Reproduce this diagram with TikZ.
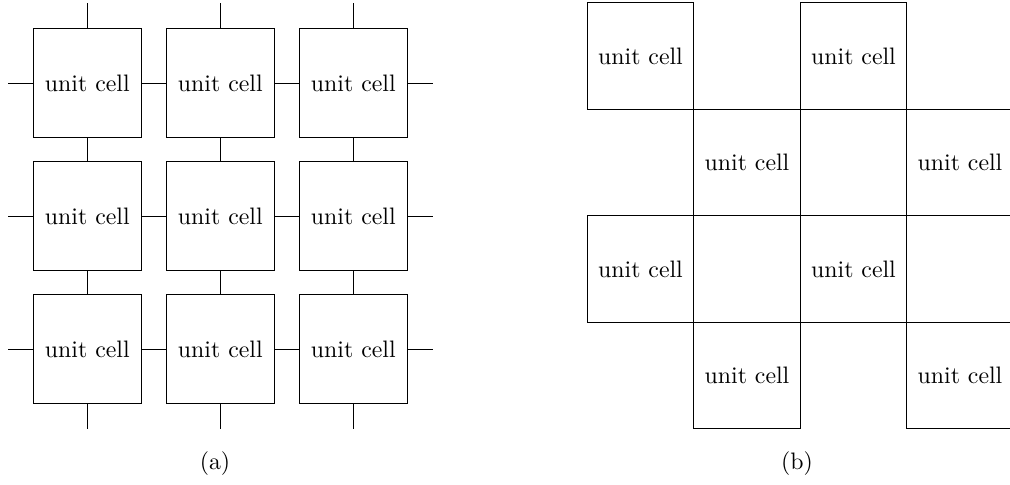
\documentclass[tikz,border=0pt]{standalone}
\usepackage{tikz}
\usetikzlibrary{positioning}

\begin{document}
\begin{tikzpicture}[x=0.42pt,y=-0.42pt,on grid,
                    cell/.style={draw,minimum size=45.4pt,inner sep=0pt}]
  \useasboundingbox (0,0) rectangle (1010,484);

  % (a) connected cells
  \begin{scope}[node distance=55.86pt]
  \node[cell] (a11) at (87.3,83) {unit cell};
  \node[cell] (a12) [right=of a11] {unit cell};
  \node[cell] (a13) [right=of a12] {unit cell};
  \node[cell] (a21) [below=of a11] {unit cell};
  \node[cell] (a22) [right=of a21] {unit cell};
  \node[cell] (a23) [right=of a22] {unit cell};
  \node[cell] (a31) [below=of a21] {unit cell};
  \node[cell] (a32) [right=of a31] {unit cell};
  \node[cell] (a33) [right=of a32] {unit cell};
  \end{scope}

  \coordinate[above=10.5pt of a11.north] (top1);
  \coordinate[above=10.5pt of a12.north] (top2);
  \coordinate[above=10.5pt of a13.north] (top3);
  \coordinate[below=10.5pt of a31.south] (bot1);
  \coordinate[below=10.5pt of a32.south] (bot2);
  \coordinate[below=10.5pt of a33.south] (bot3);
  \coordinate[left=10.5pt of a11.west] (lft1);
  \coordinate[left=10.5pt of a21.west] (lft2);
  \coordinate[left=10.5pt of a31.west] (lft3);
  \coordinate[right=10.5pt of a13.east] (rgt1);
  \coordinate[right=10.5pt of a23.east] (rgt2);
  \coordinate[right=10.5pt of a33.east] (rgt3);

  \path (a11) edge (a12)
        (a12) edge (a13)
        (a21) edge (a22)
        (a22) edge (a23)
        (a31) edge (a32)
        (a32) edge (a33)
        (a11) edge (a21)
        (a21) edge (a31)
        (a12) edge (a22)
        (a22) edge (a32)
        (a13) edge (a23)
        (a23) edge (a33)
        (a11) edge (top1)
        (a12) edge (top2)
        (a13) edge (top3)
        (a31) edge (bot1)
        (a32) edge (bot2)
        (a33) edge (bot3)
        (a11) edge (lft1)
        (a21) edge (lft2)
        (a31) edge (lft3)
        (a13) edge (rgt1)
        (a23) edge (rgt2)
        (a33) edge (rgt3)
        ;

  % (b) checkerboard
  \begin{scope}[node distance=44.73pt and 44.73pt]
  \node[cell,minimum size=44.73pt] (b11) at (640.5,56) {unit cell};
  \node[cell,minimum size=44.73pt] (b12) [right=89.46pt of b11] {unit cell};
  \node[cell,minimum size=44.73pt] (b21) [below right=of b11] {unit cell};
  \node[cell,minimum size=44.73pt] (b22) [right=89.46pt of b21] {unit cell};
  \node[cell,minimum size=44.73pt] (b31) [below=89.46pt of b11] {unit cell};
  \node[cell,minimum size=44.73pt] (b32) [right=89.46pt of b31] {unit cell};
  \node[cell,minimum size=44.73pt] (b41) [below right=of b31] {unit cell};
  \node[cell,minimum size=44.73pt] (b42) [right=89.46pt of b41] {unit cell};
  \end{scope}

  \node (capA) at (215,464) {(a)};
  \node (capB) at (797,464) {(b)};
\end{tikzpicture}
\end{document}
